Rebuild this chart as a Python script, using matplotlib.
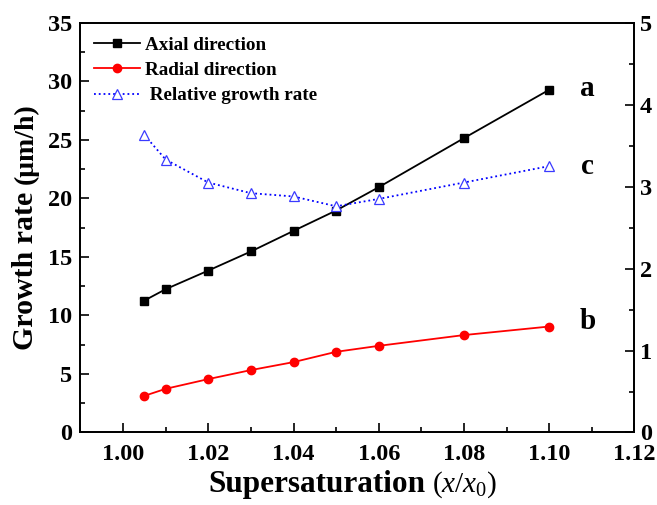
import matplotlib
matplotlib.use("Agg")
import matplotlib.pyplot as plt
from matplotlib.ticker import MultipleLocator

supersat = [1.005, 1.01, 1.02, 1.03, 1.04, 1.05, 1.06, 1.08, 1.10]
axial = [11.27, 12.24, 13.83, 15.46, 17.22, 18.96, 20.95, 25.14, 29.27]
radial = [3.13, 3.73, 4.56, 5.33, 6.01, 6.89, 7.40, 8.32, 9.05]
relative = [3.63, 3.33, 3.05, 2.92, 2.88, 2.76, 2.85, 3.05, 3.25]
xtick_labels = ['1.00', '1.02', '1.04', '1.06', '1.08', '1.10', '1.12']

plt.rcParams['font.family'] = ['Liberation Serif', 'DejaVu Serif']
plt.rcParams['mathtext.fontset'] = 'custom'
plt.rcParams['mathtext.it'] = 'Liberation Serif:italic'
plt.rcParams['mathtext.rm'] = 'Liberation Serif'

fig = plt.figure(figsize=(6.57, 5.05), dpi=100)
ax = fig.add_axes([0.1225, 0.1436, 0.843, 0.8114])
ax2 = ax.twinx()

l1, = ax.plot(supersat, axial, '-s', color='black', lw=1.3, ms=5.5, label='Axial direction')
l2, = ax.plot(supersat, radial, '-o', color='red', lw=1.3, ms=6, label='Radial direction')
l3, = ax2.plot(supersat, relative, ':^', color='blue', lw=1.3, ms=7.5, mfc='white',
               mec='#3a3aff', mew=0.9, label=' Relative growth rate')

ax.set_xlim(0.99, 1.12)
ax.set_ylim(0, 35)
ax2.set_ylim(0, 5)
ax.set_xticks([float(t) for t in xtick_labels])
ax.set_xticklabels(xtick_labels)
ax.xaxis.set_minor_locator(MultipleLocator(0.01))
ax.yaxis.set_major_locator(MultipleLocator(5))
ax.yaxis.set_minor_locator(MultipleLocator(2.5))
ax2.yaxis.set_major_locator(MultipleLocator(1))
ax2.yaxis.set_minor_locator(MultipleLocator(0.5))

for a in (ax, ax2):
    for s in a.spines.values():
        s.set_linewidth(1.3)
    a.tick_params(which='major', direction='in', length=6.5, width=1.2, labelsize=17.5)
    a.tick_params(which='minor', direction='in', length=3.5, width=1.2)
ax.tick_params(top=False, right=False)
ax.tick_params(axis='x', pad=8)
ax.tick_params(axis='y', pad=6)
ax2.tick_params(axis='y', pad=4)
for lab in ax.get_xticklabels() + ax.get_yticklabels() + ax2.get_yticklabels():
    lab.set_fontweight('bold')

ax.legend(handles=[l1, l2, l3], loc='upper left', frameon=False,
          prop={'weight': 'bold', 'size': 13.8}, handlelength=2.4, handletextpad=0.25,
          labelspacing=0.42, borderaxespad=0.3, bbox_to_anchor=(0.0, 1.0))

ax.text(1.109, 29.4, 'a', fontsize=21, fontweight='bold', ha='center', va='center')
ax.text(1.109, 22.7, 'c', fontsize=21, fontweight='bold', ha='center', va='center')
ax.text(1.109, 9.45, 'b', fontsize=21, fontweight='bold', ha='center', va='center')

# x label: bold + smaller italic part
fig.text(425 / 657, 1 - 492 / 505, 'Supersaturation', fontsize=22.5, fontweight='bold',
         ha='right', va='baseline')
fig.text(432 / 657, 1 - 492 / 505, r'($x$/$x_0$)', fontsize=21, ha='left', va='baseline')

# y label
fig.text(33 / 657, 1 - 350 / 505, 'Growth rate', fontsize=21.5, fontweight='bold',
         rotation=90, ha='left', va='baseline', rotation_mode='anchor')
fig.text(33 / 657, 1 - 184 / 505, '(\u03bcm/h)', fontsize=20, fontweight='bold',
         rotation=90, ha='left', va='baseline', rotation_mode='anchor')

fig.savefig('out.png', dpi=100)
